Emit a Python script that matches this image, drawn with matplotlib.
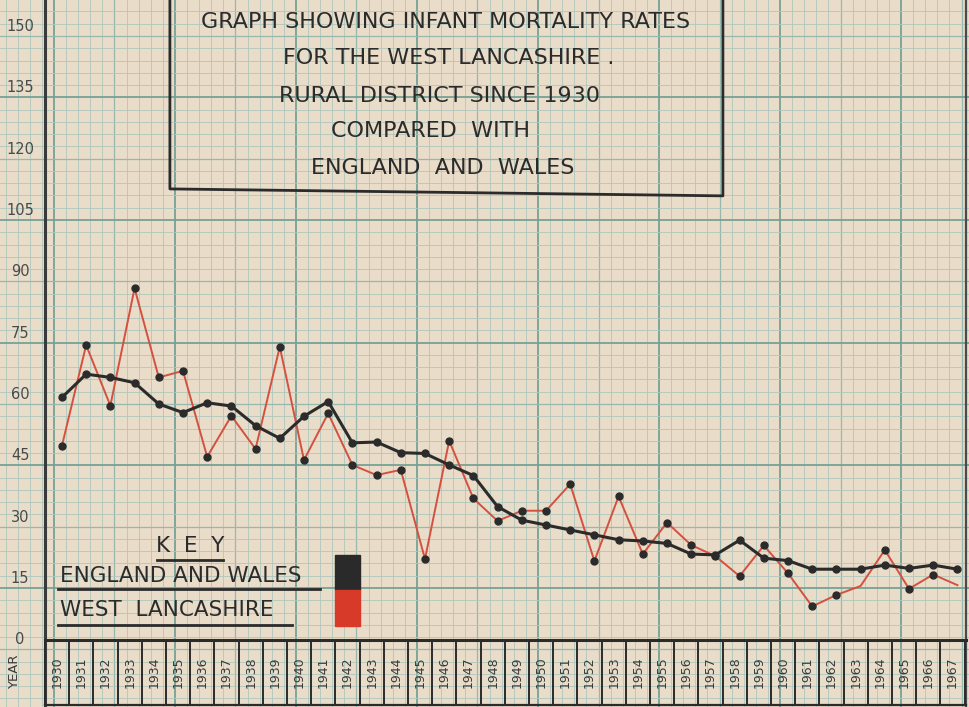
import matplotlib.pyplot as plt
import numpy as np

# infant mortality rates
years = list(range(1930, 1968))
england_wales = [59.3, 65.0, 64.2, 62.9, 57.7, 55.6, 58.0, 57.2, 52.4, 49.3,
                 54.7, 58.3, 48.2, 48.4, 45.8, 45.6, 42.8, 40.2, 32.6, 29.3,
                 28.1, 26.9, 25.7, 24.5, 24.2, 23.6, 21.0, 20.8, 24.4, 20.0,
                 19.4, 17.3, 17.3, 17.3, 18.3, 17.5, 18.3, 17.3]
west_lancs = [47.5, 72.1, 57.3, 86.0, 64.2, 65.8, 44.8, 54.8, 46.7, 71.7,
              44.0, 55.4, 42.8, 40.3, 41.6, 19.8, 48.7, 34.6, 29.1, 31.6,
              31.6, 38.1, 19.3, 35.1, 21.0, 28.7, 23.2, 20.5, 15.6, 23.1,
              16.3, 8.2, 11.0, 13.2, 22.0, 12.5, 16.0, 13.4]
y_ticks = [0, 15, 30, 45, 60, 75, 90, 105, 120, 135, 150]
title_lines = ["GRAPH SHOWING INFANT MORTALITY RATES",
               "FOR THE WEST LANCASHIRE .",
               "RURAL DISTRICT SINCE 1930",
               "COMPARED  WITH",
               "ENGLAND  AND  WALES"]

paper = "#e9dcc9"
ink = "#2b2b2b"
red = "#d4503f"

fig = plt.figure(figsize=(9.7, 7.07), dpi=100)
fig.patch.set_facecolor(paper)
ax = fig.add_axes([0, 0, 1, 1])
ax.set_xlim(1927.44, 1967.52)
ax.set_ylim(-16.4, 156.5)
ax.axis("off")

# graph paper
for k in range(-15, 67):
    x = 1934.67 + 0.5 * k
    if k % 10 == 0:
        ax.axvline(x, color="#76a195", lw=1.3, zorder=0)
    elif k % 5 == 0:
        ax.axvline(x, color="#98b8ad", lw=0.9, zorder=0)
    else:
        ax.axvline(x, color="#afc7bd", lw=0.6, zorder=0)
for k in range(-10, 49):
    y = 12.7 + 3 * k
    if k % 10 == 0:
        ax.axhline(y, color="#76a195", lw=1.3, zorder=0)
    elif k % 5 == 0:
        ax.axhline(y, color="#98b8ad", lw=0.9, zorder=0)
    else:
        ax.axhline(y, color="#afc7bd", lw=0.6, zorder=0)

# axes lines
ax.plot([1929.3, 1929.3], [-16.4, 156.5], color="#3a3a3a", lw=2.2, zorder=2)
ax.plot([1967.35, 1967.35], [-16.4, 156.5], color="#4a4a4a", lw=1.6, zorder=2)
ax.plot([1929.3, 1967.35], [0, 0], color=ink, lw=2.2, zorder=2)
ax.plot([1929.3, 1967.35], [-15.9, -15.9], color=ink, lw=1.6, zorder=2)

# y labels
for v in y_ticks:
    ax.text(1928.27, v, str(v), ha="center", va="center", fontsize=10.5,
            color="#4a4a4a")

# year boxes
for yr in years:
    ax.plot([yr - 0.7, yr - 0.7], [0, -15.9], color=ink, lw=1.4, zorder=2)
    ax.text(yr - 0.2, -7.8, str(yr), rotation=90, ha="center", va="center",
            fontsize=9, color="#3a3a3a")
ax.plot([years[-1] + 0.3] * 2, [0, -15.9], color=ink, lw=1.4, zorder=2)
ax.text(1928.06, -7.8, "YEAR", rotation=90, ha="center", va="center",
        fontsize=9.5, color="#3a3a3a")

# data lines
ax.plot(years, west_lancs, color=red, lw=1.4, zorder=3)
ax.plot(years, england_wales, color=ink, lw=2.2, zorder=4)
red_dots = [i for i in range(len(years)) if i not in (33, 37)]
ax.plot([years[i] for i in red_dots], [west_lancs[i] for i in red_dots],
        "o", color=ink, ms=5, zorder=5)
ax.plot(years, england_wales, "o", color=ink, ms=5, zorder=5)

# title box
ax.plot([1934.46, 1934.46, 1957.31, 1957.31], [160, 110.3, 108.6, 160],
        color=ink, lw=2, zorder=2)
title_pos = [(1945.83, 151.1), (1945.99, 142.3), (1945.62, 133.0),
             (1945.21, 124.4), (1945.74, 115.4)]
for line, (x, y) in zip(title_lines, title_pos):
    ax.text(x, y, line, ha="center", va="center", fontsize=16, color=ink)

# key
ax.text(1935.29, 22.9, "K  E  Y", ha="center", va="center", fontsize=15.5,
        color=ink)
ax.plot([1933.93, 1936.65], [19.6, 19.6], color=ink, lw=2)
ax.text(1929.92, 15.6, "ENGLAND AND WALES", ha="left", va="center",
        fontsize=15.5, color=ink)
ax.plot([1929.83, 1940.66], [12.5, 12.5], color=ink, lw=2)
ax.text(1929.92, 7.3, "WEST  LANCASHIRE", ha="left", va="center",
        fontsize=15.5, color=ink)
ax.plot([1929.83, 1939.5], [3.7, 3.7], color=ink, lw=2)
ax.add_patch(plt.Rectangle((1941.28, 12.2), 1.03, 8.6, color="#2a2a2a", zorder=3))
ax.add_patch(plt.Rectangle((1941.28, 3.4), 1.03, 8.8, color="#d83a2a", zorder=3))

fig.savefig("out.png", dpi=100, facecolor=paper)
